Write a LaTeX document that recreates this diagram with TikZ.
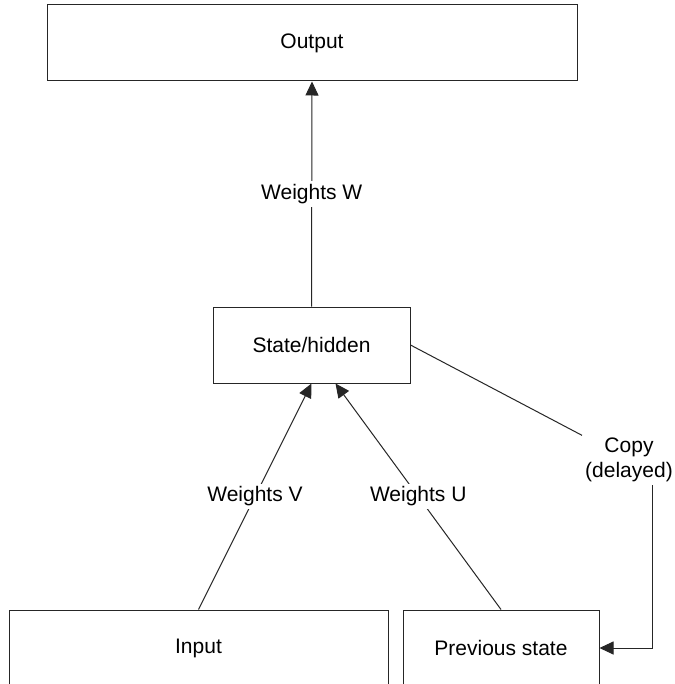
\documentclass[tikz,border=0pt]{standalone}
\usepackage{fontspec}
\setmainfont{Liberation Sans}
\usetikzlibrary{arrows.meta}
\definecolor{lc}{gray}{0.15}
\tikzset{
  box/.style={draw=lc, line width=1pt, fill=white, inner sep=0pt, font=\fontsize{21}{25}\selectfont},
  lbl/.style={fill=white, inner sep=3pt, font=\fontsize{21}{25}\selectfont},
  conn/.style={draw=lc, line width=1pt},
  arr/.style={conn, -{Triangle[length=14pt,width=13pt]}}
}
\begin{document}
\begin{tikzpicture}[x=1pt,y=-1pt]
\clip (0,0) rectangle (674,684);
\fill[white] (0,0) rectangle (674,684);
\node[box, minimum width=530pt, minimum height=76pt] (out) at (312,43) {Output};
\node[box, minimum width=197pt, minimum height=76pt] (state) at (311.5,345) {State/hidden};
\node[box, minimum width=379pt, minimum height=76pt] (in) at (198.5,648) {Input};
\node[box, minimum width=196pt, minimum height=76pt] (prev) at (501,648) {Previous state};
\node[lbl, align=center] (copy) at (629,460) {Copy\\(delayed)};
\draw[arr] (state.north) -- node[lbl] {Weights W} (out.south);
\draw[arr] (in.north) -- node[lbl] {Weights V} (state.south);
\draw[arr] (prev.north) -- node[lbl] {Weights U} ([xshift=24pt]state.south);
\draw[conn] (state.east) -- (copy);
\draw[arr] ([xshift=23pt]copy.south) |- (prev.east);
\end{tikzpicture}
\end{document}
